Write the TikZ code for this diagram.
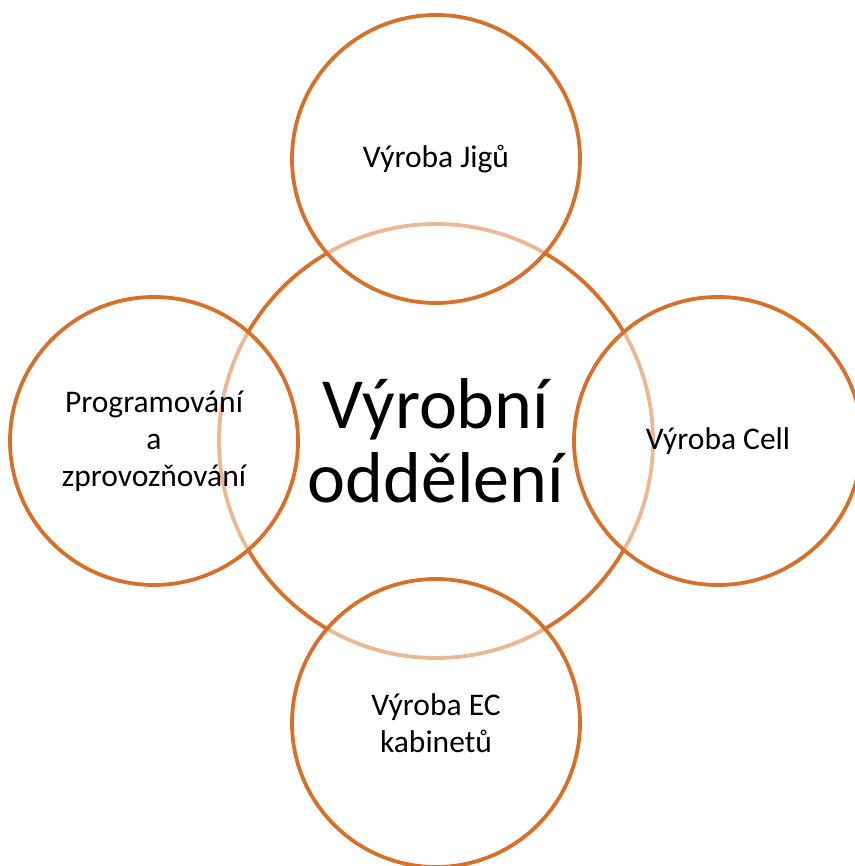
\documentclass[tikz,border=0pt]{standalone}
\usepackage{fontspec}
\setmainfont{Carlito}
\usetikzlibrary{calc}
\definecolor{oranzova}{RGB}{216,112,42}

\newcommand{\oddeleni}{%
        90/Výroba Jigů, 0/Výroba Cell, 270/Výroba EC\\kabinetů, 180/Programování\\a\\zprovozňování%
    }

\begin{document}
\begin{tikzpicture}[x=1pt,y=1pt,
        kruh/.style={circle, draw=oranzova, line width=3.8pt, align=center, inner sep=0pt},
        hlavni/.style={kruh, minimum size=434pt, font=\fontsize{72}{74}\selectfont},
        obor/.style={kruh, fill=white, fill opacity=0.5, text opacity=1, minimum size=288pt, font=\fontsize{31.5}{37}\selectfont}
    ]
        \useasboundingbox (0,0) rectangle (854,866);
        % Main circle
        \node[hlavni] (vyroba) at (436,425) {Výrobní\\oddělení};
        % Department circles around it
        \foreach \uhel/\nazev in \oddeleni{
            \node[obor] (obor\uhel) at ($(vyroba.center)+(\uhel:282)$) {\nazev};
        }
    \end{tikzpicture}
\end{document}
